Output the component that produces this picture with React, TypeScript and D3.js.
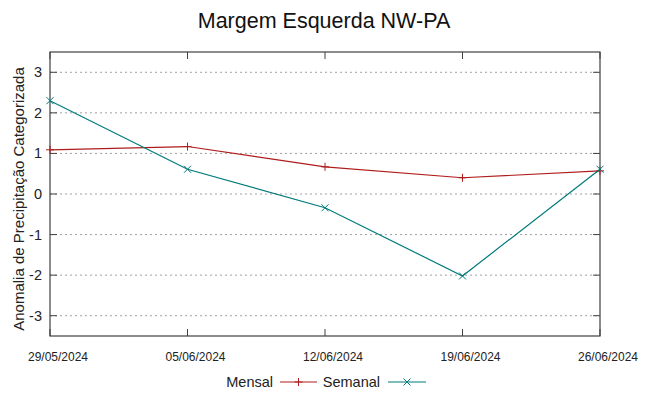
import React, { useEffect, useRef } from 'react';
import * as d3 from 'd3';

const dates = ['29/05/2024', '05/06/2024', '12/06/2024', '19/06/2024', '26/06/2024'];
const mensal = [1.09, 1.17, 0.67, 0.4, 0.57];
const semanal = [2.3, 0.61, -0.34, -2.02, 0.61];
const yTicks = [-3, -2, -1, 0, 1, 2, 3];

const W = 649;
const H = 396;
const RED = '#b01c1c';
const TEAL = '#007a7a';
const FONT = '"Liberation Sans", Arial, sans-serif';

const App: React.FC = () => {
  const svgRef = useRef<SVGSVGElement>(null);

  useEffect(() => {
    if (!svgRef.current) return;
    const svg = d3.select(svgRef.current);
    svg.selectAll('*').remove();

    const margin = { left: 50, right: 49, top: 52, bottom: 60 };
    const parse = d3.timeParse('%d/%m/%Y');
    const times = dates.map(d => parse(d) as Date);

    const x = d3.scaleTime()
      .domain([times[0], times[times.length - 1]])
      .range([margin.left, W - margin.right]);
    const y = d3.scaleLinear().domain([-3.5, 3.5]).range([H - margin.bottom, margin.top]);

    // grid
    svg.append('g').selectAll('line').data(yTicks).enter().append('line')
      .attr('x1', margin.left).attr('x2', W - margin.right)
      .attr('y1', d => y(d)).attr('y2', d => y(d))
      .attr('stroke', '#a0a0a0').attr('stroke-width', 1)
      .attr('stroke-dasharray', '2,3');

    // frame
    svg.append('rect')
      .attr('x', margin.left).attr('y', margin.top)
      .attr('width', W - margin.left - margin.right)
      .attr('height', H - margin.top - margin.bottom)
      .attr('fill', 'none').attr('stroke', '#404040').attr('stroke-width', 1.2);

    // y ticks (inward both sides)
    const tk = 7;
    const yt = svg.append('g');
    yTicks.forEach(t => {
      yt.append('line').attr('x1', margin.left).attr('x2', margin.left + tk)
        .attr('y1', y(t)).attr('y2', y(t)).attr('stroke', '#404040');
      yt.append('line').attr('x1', W - margin.right).attr('x2', W - margin.right - tk)
        .attr('y1', y(t)).attr('y2', y(t)).attr('stroke', '#404040');
      yt.append('text').text(String(t))
        .attr('x', margin.left - 8).attr('y', y(t) + 5)
        .attr('text-anchor', 'end').attr('font-size', 14.5).attr('font-family', FONT)
        .attr('fill', '#222');
    });

    // x ticks
    const xt = svg.append('g');
    times.forEach((t, i) => {
      xt.append('line').attr('x1', x(t)).attr('x2', x(t))
        .attr('y1', H - margin.bottom).attr('y2', H - margin.bottom - tk).attr('stroke', '#404040');
      xt.append('line').attr('x1', x(t)).attr('x2', x(t))
        .attr('y1', margin.top).attr('y2', margin.top + tk).attr('stroke', '#404040');
      xt.append('text').text(dates[i])
        .attr('x', x(t) + 8).attr('y', 361)
        .attr('text-anchor', 'middle').attr('font-size', 12).attr('font-family', FONT)
        .attr('fill', '#222');
    });

    const line = d3.line<number>()
      .x((_, i) => x(times[i]))
      .y(d => y(d));

    const plus = (g: any, cx: number, cy: number, color: string) => {
      g.append('line').attr('x1', cx - 4).attr('x2', cx + 4).attr('y1', cy).attr('y2', cy).attr('stroke', color);
      g.append('line').attr('x1', cx).attr('x2', cx).attr('y1', cy - 4).attr('y2', cy + 4).attr('stroke', color);
    };
    const cross = (g: any, cx: number, cy: number, color: string) => {
      g.append('line').attr('x1', cx - 3.5).attr('x2', cx + 3.5).attr('y1', cy - 3.5).attr('y2', cy + 3.5).attr('stroke', color);
      g.append('line').attr('x1', cx - 3.5).attr('x2', cx + 3.5).attr('y1', cy + 3.5).attr('y2', cy - 3.5).attr('stroke', color);
    };

    const gM = svg.append('g');
    gM.append('path').datum(mensal).attr('d', line)
      .attr('fill', 'none').attr('stroke', RED).attr('stroke-width', 1.2);
    mensal.forEach((v, i) => plus(gM, x(times[i]), y(v), RED));

    const gS = svg.append('g');
    gS.append('path').datum(semanal).attr('d', line)
      .attr('fill', 'none').attr('stroke', TEAL).attr('stroke-width', 1.2);
    semanal.forEach((v, i) => cross(gS, x(times[i]), y(v), TEAL));

    // title
    svg.append('text').text('Margem Esquerda NW-PA')
      .attr('x', 324).attr('y', 28)
      .attr('text-anchor', 'middle').attr('font-size', 21.5).attr('font-family', FONT).attr('fill', '#111');

    // y label
    svg.append('text').text('Anomalia de Precipitação Categorizada')
      .attr('transform', `translate(24,199) rotate(-90)`)
      .attr('text-anchor', 'middle').attr('font-size', 15).attr('font-family', FONT).attr('fill', '#222');

    // legend
    const ly = 382;
    const lg = svg.append('g');
    lg.append('text').text('Mensal').attr('x', 273).attr('y', ly + 5)
      .attr('text-anchor', 'end').attr('font-size', 14.5).attr('font-family', FONT).attr('fill', '#222');
    lg.append('line').attr('x1', 280).attr('x2', 317).attr('y1', ly).attr('y2', ly).attr('stroke', RED).attr('stroke-width', 1.2);
    plus(lg, 298.5, ly, RED);
    lg.append('text').text('Semanal').attr('x', 380).attr('y', ly + 5)
      .attr('text-anchor', 'end').attr('font-size', 14.5).attr('font-family', FONT).attr('fill', '#222');
    lg.append('line').attr('x1', 388).attr('x2', 426).attr('y1', ly).attr('y2', ly).attr('stroke', TEAL).attr('stroke-width', 1.2);
    cross(lg, 407, ly, TEAL);
  }, []);

  return (
    <svg ref={svgRef} width={W} height={H} viewBox={`0 0 ${W} ${H}`}
      style={{ position: 'absolute', left: 0, top: 0, background: '#fff' }} />
  );
};

export default App;
